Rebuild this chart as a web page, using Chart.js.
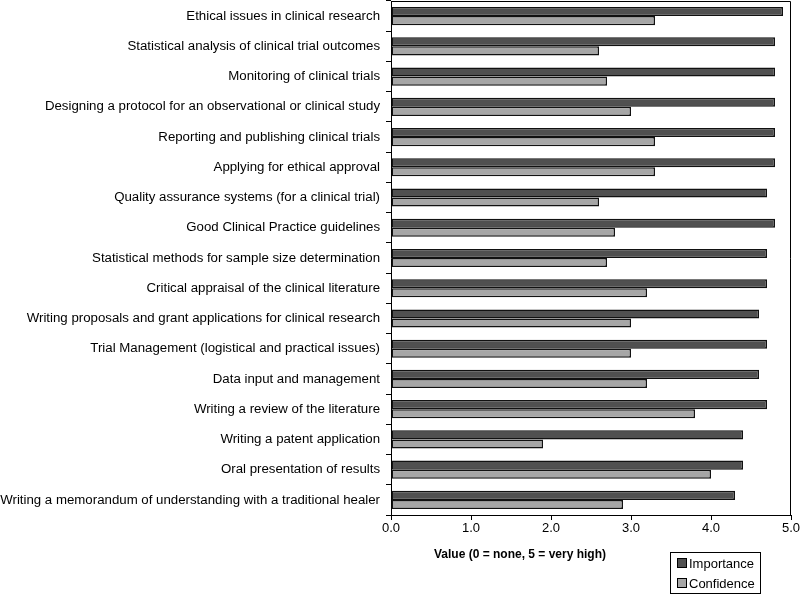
<!DOCTYPE html>
<html>
<head>
<meta charset="utf-8">
<script src="https://cdn.jsdelivr.net/npm/chart.js@4/dist/chart.umd.min.js"></script>
<style>
  html, body { margin: 0; padding: 0; background: #fff; }
  #wrap { width: 800px; height: 595px; position: relative; }
</style>
</head>
<body>
<div id="wrap"><canvas id="myChart" width="800" height="595"></canvas></div>
<script>
// categories, top to bottom
const topics = [
  'Ethical issues in clinical research',
  'Statistical analysis of clinical trial outcomes',
  'Monitoring of clinical trials',
  'Designing a protocol for an observational or clinical study',
  'Reporting and publishing clinical trials',
  'Applying for ethical approval',
  'Quality assurance systems (for a clinical trial)',
  'Good Clinical Practice guidelines',
  'Statistical methods for sample size determination',
  'Critical appraisal of the clinical literature',
  'Writing proposals and grant applications for clinical research',
  'Trial Management (logistical and practical issues)',
  'Data input and management',
  'Writing a review of the literature',
  'Writing a patent application',
  'Oral presentation of results',
  'Writing a memorandum of understanding with a traditional healer'
];
const importance = [4.9, 4.8, 4.8, 4.8, 4.8, 4.8, 4.7, 4.8, 4.7, 4.7, 4.6, 4.7, 4.6, 4.7, 4.4, 4.4, 4.3];
const confidence = [3.3, 2.6, 2.7, 3.0, 3.3, 3.3, 2.6, 2.8, 2.7, 3.2, 3.0, 3.0, 3.2, 3.8, 1.9, 4.0, 2.9];
const xTicks = [0, 1, 2, 3, 4, 5];
const axisTitle = 'Value (0 = none, 5 = very high)';

const font = 'Arial, "Liberation Sans", sans-serif';

// box round the plot, axis title and legend drawn by hand
const extras = {
  id: 'extras',
  afterDraw(chart) {
    const c = chart.ctx;
    const a = chart.chartArea;
    c.save();
    c.strokeStyle = '#000';
    c.lineWidth = 1;
    c.beginPath();
    c.moveTo(a.left, a.top + 0.5);
    c.lineTo(a.right - 0.5, a.top + 0.5);
    c.lineTo(a.right - 0.5, a.bottom);
    c.stroke();

    c.fillStyle = '#000';
    c.font = 'bold 12px ' + font;
    c.textAlign = 'center';
    c.textBaseline = 'middle';
    c.fillText(axisTitle, 520, 555);

    // legend
    c.strokeRect(670.5, 552.5, 90, 41);
    c.font = '13px ' + font;
    c.textAlign = 'left';
    chart.data.datasets.forEach((ds, i) => {
      const y = 563 + i * 20;
      c.fillStyle = ds.backgroundColor;
      c.fillRect(677, y - 4.5, 9, 9);
      c.strokeRect(677.5, y - 4.5, 9, 9);
      c.fillStyle = '#000';
      c.fillText(ds.label, 689, y + 1);
    });
    c.restore();
  }
};

new Chart(document.getElementById('myChart'), {
  type: 'bar',
  data: {
    labels: topics,
    datasets: [
      { label: 'Importance', data: importance, backgroundColor: '#505050', borderColor: '#111', borderWidth: 1.5,
        borderSkipped: false, barPercentage: 1.0, categoryPercentage: 0.6 },
      { label: 'Confidence', data: confidence, backgroundColor: '#a6a6a6', borderColor: '#111', borderWidth: 1.5,
        borderSkipped: false, barPercentage: 1.0, categoryPercentage: 0.6 }
    ]
  },
  options: {
    indexAxis: 'y',
    responsive: false,
    animation: false,
    layout: { padding: { top: 1, right: 9, left: 0, bottom: 0 } },
    plugins: { legend: { display: false }, tooltip: { enabled: false } },
    scales: {
      x: {
        min: 0, max: 5,
        afterBuildTicks(scale) { scale.ticks = xTicks.map(v => ({ value: v })); },
        afterFit(scale) { scale.height = 80; scale.paddingLeft = 0; scale.paddingRight = 0; },
        ticks: { color: '#000', font: { family: font, size: 13 }, padding: 1,
                 callback: v => Number(v).toFixed(1), maxRotation: 0 },
        grid: { drawOnChartArea: false, tickLength: 5, color: '#000' },
        border: { color: '#000', width: 1 }
      },
      y: {
        afterFit(scale) { scale.width = 391; scale.paddingTop = 0; scale.paddingBottom = 0; },
        ticks: { color: '#000', font: { family: font, size: 13.25 }, padding: 6, autoSkip: false },
        grid: { drawOnChartArea: false, tickLength: 5, color: '#000', offset: true },
        border: { color: '#000', width: 1 }
      }
    }
  },
  plugins: [extras]
});
</script>
</body>
</html>
